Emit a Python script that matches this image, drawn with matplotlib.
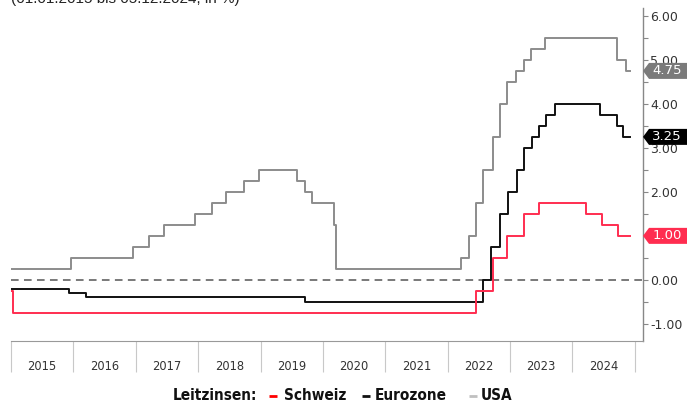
import pandas as pd
import matplotlib
matplotlib.use('Agg')
import matplotlib.pyplot as plt
from matplotlib.patches import Polygon
from matplotlib.lines import Line2D
from matplotlib.transforms import blended_transform_factory, IdentityTransform

end_date = '2024-12-05'

usa_dates = ['2015-01-01', '2015-12-17', '2016-12-15', '2017-03-16', '2017-06-15', '2017-12-14',
             '2018-03-22', '2018-06-14', '2018-09-27', '2018-12-20', '2019-08-01', '2019-09-19',
             '2019-10-31', '2020-03-04', '2020-03-16', '2022-03-17', '2022-05-05', '2022-06-16',
             '2022-07-28', '2022-09-22', '2022-11-03', '2022-12-15', '2023-02-02', '2023-03-23',
             '2023-05-04', '2023-07-27', '2024-09-19', '2024-11-08']
usa_rates = [0.25, 0.50, 0.75, 1.00, 1.25, 1.50, 1.75, 2.00, 2.25, 2.50, 2.25, 2.00,
             1.75, 1.25, 0.25, 0.50, 1.00, 1.75, 2.50, 3.25, 4.00, 4.50, 4.75, 5.00,
             5.25, 5.50, 5.00, 4.75]

ez_dates = ['2015-01-01', '2015-12-09', '2016-03-16', '2019-09-18', '2022-07-27', '2022-09-14',
            '2022-11-02', '2022-12-21', '2023-02-08', '2023-03-22', '2023-05-10', '2023-06-21',
            '2023-08-02', '2023-09-20', '2024-06-12', '2024-09-18', '2024-10-23']
ez_rates = [-0.20, -0.30, -0.40, -0.50, 0.00, 0.75, 1.50, 2.00, 2.50, 3.00, 3.25, 3.50,
            3.75, 4.00, 3.75, 3.50, 3.25]

ch_dates = ['2015-01-01', '2015-01-15', '2022-06-16', '2022-09-22', '2022-12-15', '2023-03-23',
            '2023-06-22', '2024-03-21', '2024-06-20', '2024-09-26']
ch_rates = [-0.25, -0.75, -0.25, 0.50, 1.00, 1.50, 1.75, 1.50, 1.25, 1.00]

years = list(range(2015, 2025))

c_usa = '#8c8c8c'
c_ez = '#111111'
c_ch = '#ff2d50'


def series(dates, rates):
    x = pd.to_datetime(dates + [end_date])
    y = rates + [rates[-1]]
    return x, y


fig = plt.figure(figsize=(6.96, 4.03), dpi=100)
ax = fig.add_axes([11 / 696, (403 - 341) / 403, 632 / 696, 333 / 403])

ax.axhline(0, color='#555555', lw=1.1, ls=(0, (5, 3.5)), zorder=1)
for d, r, c in [(usa_dates, usa_rates, c_usa), (ez_dates, ez_rates, c_ez), (ch_dates, ch_rates, c_ch)]:
    x, y = series(d, r)
    ax.plot(x, y, drawstyle='steps-post', color=c, lw=1.4, zorder=3)

x0 = pd.Timestamp('2015-01-01')
ax.set_xlim(x0, x0 + pd.Timedelta(days=10.13 * 365.25))
ax.set_ylim(-1.39, 6.18)

# y axis on the right
ax.yaxis.tick_right()
ax.set_yticks(range(-1, 7))
ax.set_yticklabels(['%.2f' % v for v in range(-1, 7)])
ax.set_yticks([v + 0.5 for v in range(-1, 6)], minor=True)
ax.tick_params(axis='y', which='both', direction='out', length=3.5, width=0.8, color='#888888',
               labelsize=9, labelcolor='#333333', pad=1.5)

# x axis: year separators and centred labels
ax.set_xticks(pd.to_datetime(['%d-01-01' % y for y in years + [2025]]))
ax.set_xticklabels([])
ax.set_xticks(pd.to_datetime(['%d-07-02' % y for y in years]), minor=True)
ax.set_xticklabels([str(y) for y in years], minor=True)
ax.tick_params(axis='x', which='major', direction='out', length=22.5, width=0.8, color='#c8c8c8')
ax.tick_params(axis='x', which='minor', length=0, pad=13.5, labelsize=8.3, labelcolor='#333333')

for s in ['left', 'top']:
    ax.spines[s].set_visible(False)
ax.spines['right'].set_color('#888888')
ax.spines['bottom'].set_color('#999999')
ax.spines['right'].set_linewidth(1.0)
ax.spines['bottom'].set_linewidth(0.8)

# end value tags
tr = blended_transform_factory(IdentityTransform(), ax.transData)
h = 8 / 44
for v, c, lab in [(4.75, '#7a7a7a', '4.75'), (3.25, '#000000', '3.25'), (1.00, c_ch, '1.00')]:
    poly = Polygon([(643, v), (649, v + h), (687, v + h), (687, v - h), (649, v - h)],
                   closed=True, transform=tr, facecolor=c, edgecolor='none', clip_on=False, zorder=5)
    ax.add_patch(poly)
    ax.text(667, v, lab, transform=tr, color='white', fontsize=9.5, ha='center', va='center',
            clip_on=False, zorder=6)

# cut-off subtitle
fig.text(11 / 696, 1 - 3 / 403, '(01.01.2015 bis 05.12.2024, in %)', fontsize=11,
         family='Liberation Sans', color='#222222', ha='left', va='baseline')

# legend line
ly = 1 - 396 / 403
leg = dict(fontsize=11, fontweight='bold', family='DejaVu Sans', fontstretch='condensed',
           va='center', color='#111111')
fig.text(173 / 696, ly, 'Leitzinsen:', **leg)
fig.text(284 / 696, ly, 'Schweiz', **leg)
fig.text(375 / 696, ly, 'Eurozone', **leg)
fig.text(481 / 696, ly, 'USA', **leg)
for x_left, c in [(269, '#ff0000'), (362, '#111111'), (469, '#c0c0c0')]:
    fig.add_artist(Line2D([x_left / 696, (x_left + 8) / 696], [ly, ly], transform=fig.transFigure,
                          color=c, lw=2, solid_capstyle='butt'))

fig.savefig('out.png', dpi=100)
